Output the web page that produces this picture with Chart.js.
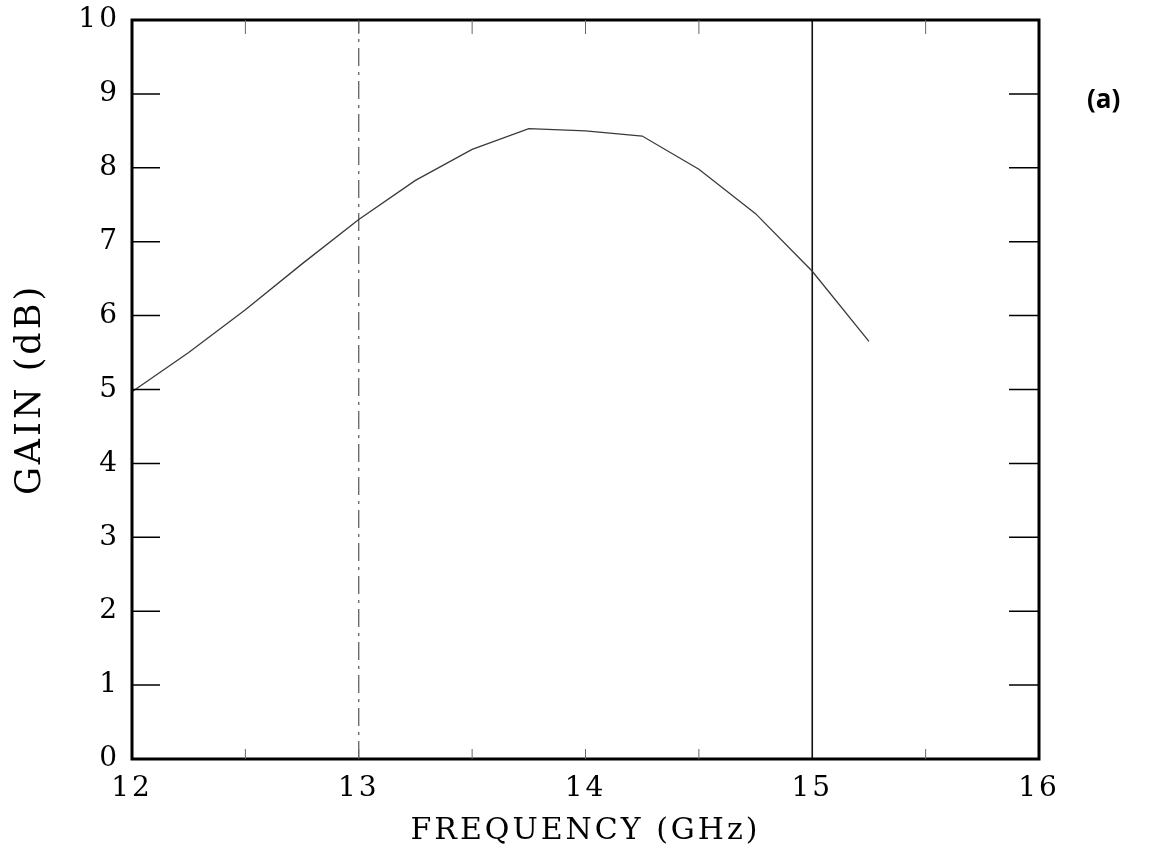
<!DOCTYPE html>
<html>
<head>
<meta charset="utf-8">
<script src="https://cdn.jsdelivr.net/npm/chart.js@4.4.1/dist/chart.umd.min.js"></script>
<style>
  html, body { margin: 0; padding: 0; background: #fff; }
  #wrap { position: relative; width: 1166px; height: 859px; }
  #tag { position: absolute; left: 1087px; top: 80px; font: bold 26px "Open Sans", sans-serif; color: #000; }
</style>
</head>
<body>
<div id="wrap">
  <canvas id="myChart" width="1166" height="859"></canvas>
  <div id="tag">(a)</div>
</div>
<script>
// gain curve
const freq = [12, 12.25, 12.5, 12.75, 13, 13.25, 13.5, 13.75, 14, 14.25, 14.5, 14.75, 15, 15.25];
const gain = [4.97, 5.5, 6.08, 6.7, 7.3, 7.83, 8.25, 8.53, 8.5, 8.43, 7.98, 7.38, 6.6, 5.65];

// band edge markers
const bandEdges = [13, 15];
const gainRange = [0, 10];

const xTicks = [12, 13, 14, 15, 16];
const yTicks = [0, 1, 2, 3, 4, 5, 6, 7, 8, 9, 10];
const minorX = [12.5, 13, 13.5, 14, 14.5, 15.5];

const serif = '"DejaVu Serif", "Liberation Serif", serif';

// old typeset look: wider letter spacing on all canvas text
const spacing = {
    id: 'spacing',
    beforeDraw(chart) { chart.ctx.letterSpacing = '3px'; }
};

// box frame + inward ticks like the original plot
const frame = {
    id: 'frame',
    afterDatasetsDraw(chart) {
        const {ctx, chartArea: a, scales: {x, y}} = chart;
        ctx.save();
        ctx.strokeStyle = '#000';
        ctx.lineWidth = 3;
        ctx.strokeRect(a.left, a.top, a.right - a.left, a.bottom - a.top);

        ctx.lineWidth = 1.5;
        yTicks.slice(1, -1).forEach(v => {
            const py = y.getPixelForValue(v);
            ctx.beginPath();
            ctx.moveTo(a.left, py); ctx.lineTo(a.left + 28, py);
            ctx.moveTo(a.right - 30, py); ctx.lineTo(a.right, py);
            ctx.stroke();
        });
        ctx.lineWidth = 1;
        ctx.strokeStyle = '#666';
        minorX.forEach(v => {
            const px = x.getPixelForValue(v);
            ctx.beginPath();
            ctx.moveTo(px, a.top); ctx.lineTo(px, a.top + 14);
            ctx.moveTo(px, a.bottom); ctx.lineTo(px, a.bottom - 10);
            ctx.stroke();
        });
        ctx.restore();
    }
};

const ctx = document.getElementById('myChart');

new Chart(ctx, {
    type: 'line',
    data: {
        datasets: [
            {
                data: freq.map((f, i) => ({x: f, y: gain[i]})),
                borderColor: '#3a3a3a',
                borderWidth: 1.3,
                pointRadius: 0,
                tension: 0
            },
            {
                data: gainRange.map(g => ({x: bandEdges[0], y: g})),
                borderColor: '#555',
                borderWidth: 1.2,
                borderDash: [18, 6, 3, 6],
                pointRadius: 0
            },
            {
                data: gainRange.map(g => ({x: bandEdges[1], y: g})),
                borderColor: '#111',
                borderWidth: 1.6,
                pointRadius: 0
            }
        ]
    },
    options: {
        responsive: false,
        animation: false,
        layout: {
            padding: {top: 20, right: 127, left: 0, bottom: 0}
        },
        plugins: {
            legend: {display: false},
            tooltip: {enabled: false}
        },
        scales: {
            x: {
                type: 'linear',
                min: 12,
                max: 16,
                afterBuildTicks: (s) => { s.ticks = xTicks.map(v => ({value: v})); },
                afterFit: (s) => { s.height = 100; },
                grid: {display: false, drawTicks: false},
                border: {display: false},
                ticks: {
                    color: '#000',
                    padding: 13,
                    maxRotation: 0,
                    font: {family: serif, size: 28}
                },
                title: {
                    display: true,
                    text: 'FREQUENCY (GHz)',
                    color: '#000',
                    padding: {bottom: 10},
                    font: {family: serif, size: 30}
                }
            },
            y: {
                min: 0,
                max: 10,
                afterBuildTicks: (s) => { s.ticks = yTicks.map(v => ({value: v})); },
                afterFit: (s) => { s.width = 132; s.paddingTop = 0; s.paddingBottom = 0; },
                grid: {display: false, drawTicks: false},
                border: {display: false},
                ticks: {
                    color: '#000',
                    padding: 12,
                    font: {family: serif, size: 28}
                },
                title: {
                    display: true,
                    text: 'GAIN (dB)',
                    color: '#000',
                    padding: {top: 10},
                    font: {family: serif, size: 35}
                }
            }
        }
    },
    plugins: [spacing, frame]
});
</script>
</body>
</html>
